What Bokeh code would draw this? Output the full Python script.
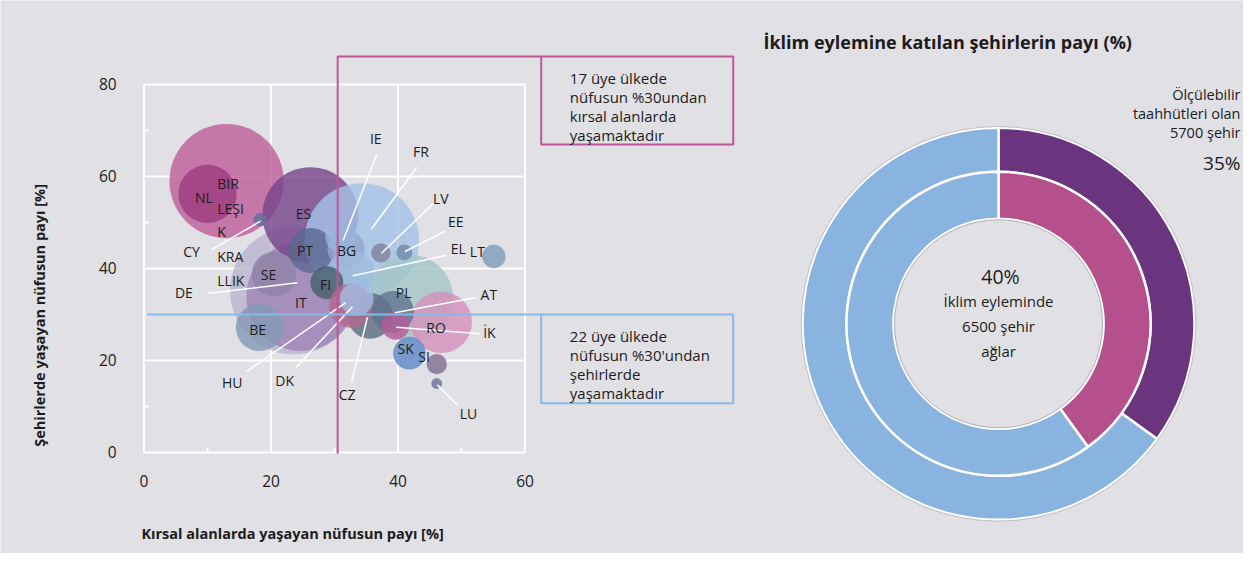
import math
from bokeh.plotting import figure
from bokeh.models import Range1d
from bokeh.core.properties import value
from bokeh.embed import file_html
from bokeh.resources import INLINE

# ---------------- data ----------------
countries = ["DE", "IT", "UK", "NL", "ES", "FR", "PL", "RO", "SE", "BE", "PT", "BG", "IE",
             "EL", "FI", "CZ", "HU", "AT", "HR", "DK", "SK", "SI", "LV", "EE", "LT", "CY", "LU"]
rural_share = [23.6, 24.7, 13.0, 10.0, 26.2, 34.3, 41.9, 46.8, 20.5, 18.2, 26.3, 31.8, 31.0,
               32.6, 28.8, 35.6, 32.6, 39.2, 39.6, 33.5, 41.8, 46.1, 37.3, 41.0, 55.1, 18.3, 46.1]
urban_share = [35.2, 33.9, 59.0, 56.2, 51.6, 46.1, 33.6, 28.3, 38.8, 27.2, 43.9, 44.3, 46.9,
               39.1, 36.9, 29.7, 31.9, 30.6, 27.6, 33.4, 21.6, 19.2, 43.4, 43.5, 42.6, 50.6, 15.0]
population_mn = [83.0, 60.4, 66.6, 17.3, 46.9, 67.0, 38.0, 19.4, 10.2, 11.5, 10.3, 7.0, 4.9,
                 10.7, 5.5, 10.6, 9.8, 8.9, 4.1, 5.8, 5.4, 2.1, 1.9, 1.3, 2.8, 0.9, 0.6]

x_ticks = [0, 20, 40, 60]
y_ticks = [0, 20, 40, 60, 80]
x_minor_ticks = [10, 30, 50]
y_minor_ticks = [10, 30, 50, 70]
rural_threshold = 30.5
urban_threshold = 30

outer_labels = ["Ölçülebilir taahhütleri olan şehirler", "Diğer"]
outer_share = [35, 65]
inner_labels = ["İklim eyleminde şehir ağları", "Diğer"]
inner_share = [40, 60]

# ---------------- styles ----------------
BG = "#e1e0e5"
TXT = "#1c1c1c"
FONT = "Open Sans"
bubble_colors = ["#b3aecb", "#9a7cb3", "#c0649c", "#9c3a80", "#74438b", "#a4c2e7", "#a3c6c7",
                 "#d590bb", "#8e82a8", "#8398b5", "#5a6890", "#93a4cc", "#98b4de",
                 "#9cbcdc", "#465e6a", "#5a6c7f", "#b4688d", "#617391", "#b65a97", "#a3bde3",
                 "#6b91cb", "#8b7898", "#8a8aa4", "#7690b2", "#8aa4bd", "#6a6f9f", "#7c7ca2"]
bubble_alpha = [0.7, 0.7, 0.85, 0.8, 0.8, 0.8, 0.8, 0.8, 0.8, 0.8, 0.8, 0.8, 0.8,
                0.8, 0.8, 0.8, 0.8, 0.8, 0.8, 0.8, 0.9, 0.9, 0.9, 0.9, 0.9, 0.9, 0.9]
BUBBLE_SCALE = 14.0  # diameter px per sqrt(million)
MAGENTA = "#c0559a"
BLUE = "#8ab8e6"
PURPLE = "#6a357e"
PINK = "#b5508c"
LBLUE = "#8ab4e0"

# ---------------- figure ----------------
p = figure(width=1243, height=553, x_range=Range1d(-22.6, 173.15), y_range=Range1d(-21.96, 98.26),
           output_backend="svg", toolbar_location=None, min_border=0,
           x_axis_type=None, y_axis_type=None,
           background_fill_color=BG, border_fill_color=BG, outline_line_color=None)
p.xgrid.visible = False
p.ygrid.visible = False
# donut coordinate system (1 unit = 1 px, centred on the ring)
p.extra_x_ranges = {"dx": Range1d(-998, 245)}
p.extra_y_ranges = {"dy": Range1d(-229.7, 323.3)}

# grid lines & frame
p.segment(x0=x_ticks, y0=[0] * len(x_ticks), x1=x_ticks, y1=[80] * len(x_ticks),
          line_color="white", line_width=2)
p.segment(x0=[0] * len(y_ticks), y0=y_ticks, x1=[60] * len(y_ticks), y1=y_ticks,
          line_color="white", line_width=2)
p.segment(x0=[0] * len(y_minor_ticks), y0=y_minor_ticks, x1=[0.7] * len(y_minor_ticks),
          y1=y_minor_ticks, line_color="white", line_width=2)
p.segment(x0=x_minor_ticks, y0=[0] * len(x_minor_ticks), x1=x_minor_ticks,
          y1=[1.0] * len(x_minor_ticks), line_color="white", line_width=2)

# tick labels
p.text(x=[-4.3] * len(y_ticks), y=y_ticks, text=[str(v) for v in y_ticks],
       text_font=value(FONT), text_font_size="15.5px", text_color=TXT,
       text_align="right", text_baseline="middle")
p.text(x=x_ticks, y=[-6.3] * len(x_ticks), text=[str(v) for v in x_ticks],
       text_font=value(FONT), text_font_size="15.5px", text_color=TXT,
       text_align="center", text_baseline="middle")

# axis titles
p.text(x=[-16.5], y=[29.8], text=["Şehirlerde yaşayan nüfusun payı [%]"], angle=math.pi / 2,
       text_font=value(FONT), text_font_size="14.5px", text_font_style="bold", text_color=TXT,
       text_align="center", text_baseline="middle")
p.text(x=[23.4], y=[-17.6], text=["Kırsal alanlarda yaşayan nüfusun payı [%]"],
       text_font=value(FONT), text_font_size="14.5px", text_font_style="bold", text_color=TXT,
       text_align="center", text_baseline="middle")

# bubbles
sizes = [BUBBLE_SCALE * math.sqrt(v) for v in population_mn]
p.scatter(x=rural_share, y=urban_share, size=sizes, marker="circle",
          fill_color=bubble_colors, fill_alpha=bubble_alpha, line_color=None)

# leader lines (label end -> bubble)
lead_x0 = [10.64, 10.12, 16.16, 23.89, 32.67, 36.66, 42.97, 45.6, 47.4, 47.7, 52.3, 52.9, 49.4]
lead_y0 = [44.1, 34.6, 17.6, 18.4, 15.2, 64.8, 62.0, 54.2, 48.1, 42.9, 33.7, 25.8, 10.2]
lead_x1 = [18.37, 24.16, 31.77, 32.83, 35.19, 31.35, 35.82, 37.4, 41.1, 32.9, 39.5, 39.7, 46.2]
lead_y1 = [50.3, 36.9, 32.6, 31.7, 29.4, 46.1, 48.6, 43.3, 43.7, 38.4, 30.4, 27.2, 14.7]
p.segment(x0=lead_x0, y0=lead_y0, x1=lead_x1, y1=lead_y1, line_color="white", line_width=1.5)

# country labels
lab_text = ["NL", "CY", "DE", "ES", "PT", "BG", "SE", "FI", "IT", "BE", "HU", "DK", "CZ", "IE",
            "FR", "LV", "EE", "EL", "LT", "PL", "AT", "RO", "İK", "SK", "SI", "LU"]
lab_x = [9.43, 7.49, 6.28, 25.1, 25.35, 31.9, 19.6, 28.6, 24.7, 17.9, 13.9, 22.15, 32.0, 36.5,
         43.6, 46.75, 49.1, 49.5, 52.5, 40.9, 54.3, 46.0, 54.4, 41.2, 44.1, 51.1]
lab_y = [55.5, 43.7, 34.7, 51.9, 43.9, 44.0, 38.8, 36.6, 32.6, 26.8, 15.2, 15.6, 12.6, 68.2,
         65.4, 55.3, 50.2, 44.3, 43.7, 34.7, 34.3, 27.2, 26.1, 22.7, 20.8, 8.5]
p.text(x=lab_x, y=lab_y, text=lab_text, text_font=value(FONT), text_font_size="14px",
       text_color=TXT, text_align="center", text_baseline="middle")
uk_parts = ["BIR", "LEŞI", "K", "KRA", "LLIK"]
uk_y = [58.4, 53.1, 48.0, 42.6, 37.4]
p.text(x=[11.54] * len(uk_parts), y=uk_y, text=uk_parts, text_font=value(FONT),
       text_font_size="14px", text_color=TXT, text_align="left", text_baseline="middle")

# threshold lines and boxes
p.line(x=[rural_threshold, rural_threshold, 62.55], y=[-0.3, 86.1, 86.1],
       line_color=MAGENTA, line_width=2)
p.quad(left=[62.55], right=[92.79], bottom=[66.96], top=[86.1],
       fill_color=None, line_color=MAGENTA, line_width=2)
p.line(x=[0.4, 62.55], y=[urban_threshold, urban_threshold], line_color=BLUE, line_width=2)
p.quad(left=[62.55], right=[92.79], bottom=[10.72], top=[urban_threshold],
       fill_color=None, line_color=BLUE, line_width=2)

box1 = ["17 üye ülkede", "nüfusun %30undan", "kırsal alanlarda", "yaşamaktadır"]
box1_y = [81.5, 77.2, 73.1, 69.1]
box2 = ["22 üye ülkede", "nüfusun %30'undan", "şehirlerde", "yaşamaktadır"]
box2_y = [25.4, 21.3, 17.1, 13.0]
p.text(x=[67.06] * 4, y=box1_y, text=box1, text_font=value(FONT), text_font_size="15px",
       text_color=TXT, text_align="left", text_baseline="middle")
p.text(x=[67.06] * 4, y=box2_y, text=box2, text_font=value(FONT), text_font_size="15px",
       text_color=TXT, text_align="left", text_baseline="middle")


# ---------------- donut ----------------
def ring_angles(shares):
    starts, ends = [], []
    acc = 0.0
    for s in shares:
        a0 = math.pi / 2 - 2 * math.pi * acc / 100.0
        acc += s
        a1 = math.pi / 2 - 2 * math.pi * acc / 100.0
        starts.append(a0)
        ends.append(a1)
    return starts, ends


os_, oe_ = ring_angles(outer_share)
is_, ie_ = ring_angles(inner_share)
D = dict(x_range_name="dx", y_range_name="dy")
p.annular_wedge(x=0, y=0, inner_radius=152, outer_radius=196, start_angle=os_, end_angle=oe_,
                direction="clock", fill_color=[PURPLE, LBLUE], line_color="white", line_width=2.5, **D)
p.annular_wedge(x=0, y=0, inner_radius=105, outer_radius=152, start_angle=is_, end_angle=ie_,
                direction="clock", fill_color=[PINK, LBLUE], line_color="white", line_width=2.5, **D)
p.circle(x=[0], y=[0], radius=197.3, fill_color=None, line_color="#b0b0b8", line_width=0.8, **D)
p.circle(x=[0], y=[0], radius=104, fill_color=None, line_color="#9a9aa2", line_width=0.8, **D)

p.text(x=[-235], y=[281.6], text=["İklim eylemine katılan şehirlerin payı (%)"],
       text_font=value(FONT), text_font_size="18px", text_font_style="bold", text_color=TXT,
       text_align="left", text_baseline="middle", **D)
p.text(x=[242] * 3, y=[229.3, 210.0, 191.6], text=["Ölçülebilir", "taahhütleri olan", "5700 şehir"],
       text_font=value(FONT), text_font_size="14.5px", text_color=TXT,
       text_align="right", text_baseline="middle", **D)
p.text(x=[242], y=[160.6], text=[f"{outer_share[0]}%"], text_font=value(FONT),
       text_font_size="19px", text_color=TXT, text_align="right", text_baseline="middle", **D)
p.text(x=[2], y=[47.3], text=[f"{inner_share[0]}%"], text_font=value(FONT),
       text_font_size="19.5px", text_color=TXT, text_align="center", text_baseline="middle", **D)
p.text(x=[0] * 3, y=[22.6, -1.7, -26.7], text=["İklim eyleminde", "6500 şehir", "ağlar"],
       text_font=value(FONT), text_font_size="15px", text_color=TXT,
       text_align="center", text_baseline="middle", **D)

open("out.html", "w").write(file_html(p, INLINE))
